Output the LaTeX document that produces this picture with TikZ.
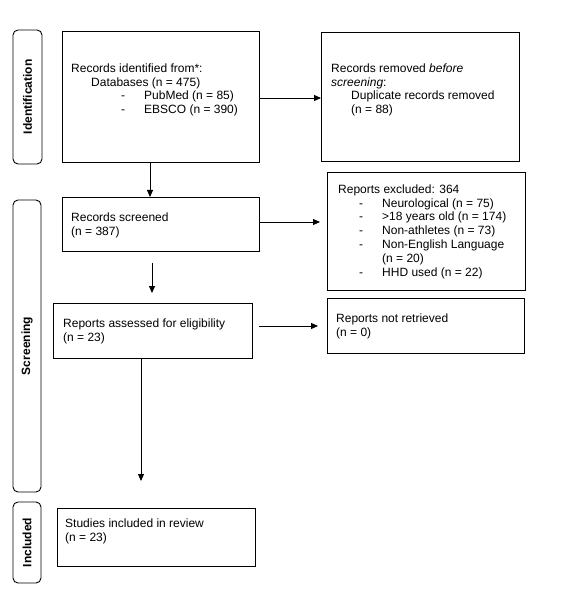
\documentclass[tikz,border=0pt]{standalone}
\usepackage{fontspec}
\setmainfont{Liberation Sans}
\usetikzlibrary{arrows.meta}
\begin{document}
\begin{tikzpicture}[x=1pt,y=-1pt,
  box/.style={draw=black, line width=0.9pt, inner sep=0pt, outer sep=0pt, anchor=north west},
  side/.style={draw=black, line width=0.9pt, rounded corners=5pt, inner sep=0pt, outer sep=0pt,
    rotate=90, font=\fontsize{12}{13.8}\selectfont\bfseries},
  txt/.style={anchor=north west, inner sep=0pt, align=left, font=\fontsize{12}{13.85}\selectfont},
  arr/.style={line width=0.9pt, -{Triangle[width=6pt,length=7pt]}}]
\useasboundingbox (0,0) rectangle (566,593);
\fill[white] (0,0) rectangle (566,593);
% side labels
\node[side, minimum width=134pt, minimum height=29pt] (sid) at (27.5,97) {Identification};
\node[side, minimum width=292pt, minimum height=28pt] (ssc) at (27,346) {Screening};
\node[side, minimum width=81pt, minimum height=28pt] (sin) at (27,542.5) {Included};
% boxes
\node[box, minimum width=197pt, minimum height=131pt] (b1) at (62,31) {};
\node[box, minimum width=198pt, minimum height=129pt] (b2) at (321,32) {};
\node[box, minimum width=197pt, minimum height=54pt] (b3) at (62,197) {};
\node[box, minimum width=198pt, minimum height=118pt] (b4) at (327,172) {};
\node[box, minimum width=199pt, minimum height=55pt] (b5) at (53,303) {};
\node[box, minimum width=197pt, minimum height=55pt] (b6) at (327,298) {};
\node[box, minimum width=198pt, minimum height=58pt] (b7) at (57,508) {};
% texts
\node[txt] (t1) at (71,62.3) {\strut Records identified from*:\\
  \hspace*{20pt}Databases (n = 475)\\
  \hspace*{50pt}\makebox[23pt][l]{-}PubMed (n = 85)\\
  \hspace*{50pt}\makebox[23pt][l]{-}EBSCO (n = 390)};
\node[txt] (t2) at (331,62.3) {\strut Records removed \textit{before}\\
  \textit{screening}:\\
  \hspace*{20pt}Duplicate records removed\\
  \hspace*{20pt}(n = 88)};
\node[txt] (t3) at (71,211.3) {\strut Records screened\\(n = 387)};
\node[txt] (t4) at (338,183.3) {\strut Reports excluded: 364\\
  \hspace*{21pt}\makebox[23pt][l]{-}Neurological (n = 75)\\
  \hspace*{21pt}\makebox[23pt][l]{-}>18 years old (n = 174)\\
  \hspace*{21pt}\makebox[23pt][l]{-}Non-athletes (n = 73)\\
  \hspace*{21pt}\makebox[23pt][l]{-}Non-English Language\\
  \hspace*{44pt}(n = 20)\\
  \hspace*{21pt}\makebox[23pt][l]{-}HHD used (n = 22)};
\node[txt] (t5) at (63,317.3) {\strut Reports assessed for eligibility\\(n = 23)};
\node[txt] (t6) at (336,312.3) {\strut Reports not retrieved\\(n = 0)};
\node[txt] (t7) at (65,517.3) {\strut Studies included in review\\(n = 23)};
% arrow positions
\coordinate (h1) at (0,98);
\coordinate (h2) at (0,222);
\coordinate (h3) at (0,326);
\coordinate (v1) at (150,0);
\coordinate (v2) at (152,0);
\coordinate (v3) at (141,0);
% connectors
\draw[arr] (b1.east |- h1) -- (b2.west |- h1);
\draw[arr] (b1.south -| v1) -- (b3.north -| v1);
\draw[arr, shorten >=7pt] (b3.east |- h2) -- (b4.west |- h2);
\draw[arr, shorten <=12pt, shorten >=10pt] (b3.south -| v2) -- (b5.north -| v2);
\draw[arr, shorten <=7pt, shorten >=9pt] (b5.east |- h3) -- (b6.west |- h3);
\draw[arr, shorten >=27pt] (b5.south -| v3) -- (b7.north -| v3);
\end{tikzpicture}
\end{document}
